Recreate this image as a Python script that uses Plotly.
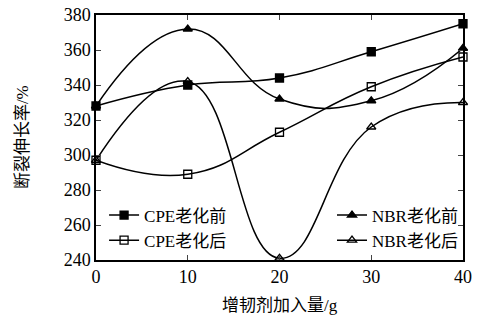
import plotly.graph_objects as go

x = [0, 10, 20, 30, 40]
cpe_before = [328, 340, 344, 359, 375]
cpe_after = [297, 289, 313, 339, 356]
nbr_before = [328, 372, 332, 331, 361]
nbr_after = [297, 342, 241, 316, 330]

names = ["CPE老化前", "CPE老化后", "NBR老化前", "NBR老化后"]
symbols = ["square", "square-open", "triangle-up", "triangle-up-open"]
series = [cpe_before, cpe_after, nbr_before, nbr_after]
legends = ["legend", "legend", "legend2", "legend2"]

font_fam = "Liberation Serif, Noto Sans CJK SC, serif"

fig = go.Figure()
for n, s, y, lg in zip(names, symbols, series, legends):
    fig.add_trace(go.Scatter(
        x=x, y=y, name=n, mode="lines+markers",
        line=dict(color="black", width=1.5, shape="spline", smoothing=1.3),
        marker=dict(symbol=s, size=8, color="black", line=dict(color="black", width=1.3)),
        legend=lg, cliponaxis=False,
    ))

fig.update_layout(
    width=477, height=320,
    margin=dict(l=96, r=14, t=15, b=60, autoexpand=False),
    paper_bgcolor="white", plot_bgcolor="white",
    font=dict(family=font_fam, size=18, color="black"),
    showlegend=True,
    legend=dict(x=0.022, y=0.255, xanchor="left", yanchor="top",
                bgcolor="rgba(0,0,0,0)", font=dict(size=17), tracegroupgap=0,
                itemwidth=30),
    legend2=dict(x=1.0, y=0.255, xanchor="right", yanchor="top",
                 bgcolor="rgba(0,0,0,0)", font=dict(size=17), tracegroupgap=0,
                 itemwidth=30),
    annotations=[
        dict(text="增韧剂加入量/g", xref="paper", yref="paper", x=0.5, y=-0.185,
             xanchor="center", yanchor="middle", showarrow=False, font=dict(size=17)),
        dict(text="断裂伸长率/%", xref="paper", yref="paper", x=-0.2, y=0.5,
             xanchor="center", yanchor="middle", showarrow=False, textangle=-90,
             font=dict(size=17)),
    ],
)
fig.update_xaxes(
    range=[0, 40], tickvals=[0, 10, 20, 30, 40], ticks="inside", ticklen=5,
    showline=True, linecolor="black", linewidth=1.5, mirror="ticks",
    showgrid=False, zeroline=False, automargin=False,
)
fig.update_yaxes(
    range=[240, 380], tickvals=list(range(240, 381, 20)), ticks="inside", ticklen=5,
    showline=True, linecolor="black", linewidth=1.5, mirror="ticks",
    showgrid=False, zeroline=False, automargin=False,
)
fig.write_html("out.html", config={"displayModeBar": False},
               post_script="document.body.style.margin='0';")
